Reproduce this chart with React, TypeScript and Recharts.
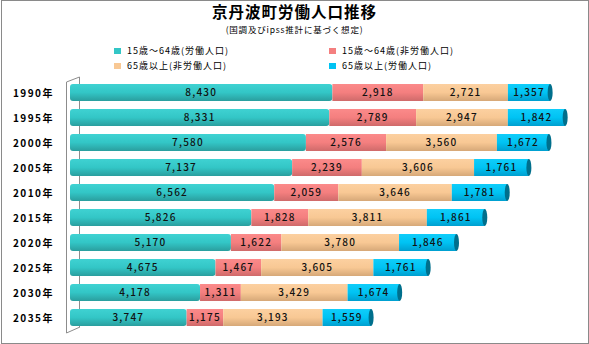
import React from "react";
import { BarChart, Bar, XAxis, YAxis, LabelList } from "recharts";

const years = ["1990年", "1995年", "2000年", "2005年", "2010年", "2015年", "2020年", "2025年", "2030年", "2035年"];
const workAge = [8430, 8331, 7580, 7137, 6562, 5826, 5170, 4675, 4178, 3747];
const workAgeNon = [2918, 2789, 2576, 2239, 2059, 1828, 1622, 1467, 1311, 1175];
const elderNon = [2721, 2947, 3560, 3606, 3646, 3811, 3780, 3605, 3429, 3193];
const elderWork = [1357, 1842, 1672, 1761, 1781, 1861, 1846, 1761, 1674, 1559];

const seriesNames = ["15歳～64歳(労働人口)", "15歳～64歳(非労働人口)", "65歳以上(非労働人口)", "65歳以上(労働人口)"];

const data = years.map((y, i) => ({
  year: y,
  a: workAge[i],
  b: workAgeNon[i],
  c: elderNon[i],
  d: elderWork[i],
}));

const FONT = '"Noto Sans CJK JP", "Noto Sans", sans-serif';

const colors = {
  a: ["#3fd2d2", "#33c6c6", "#2a9e9e"],
  b: ["#fb8a8a", "#f47f7f", "#cf6a6a"],
  c: ["#fcd0a0", "#f8c894", "#d6a878"],
  d: ["#10cdfa", "#00c3f3", "#009fcf"],
};
const legendColors = ["#33c6c6", "#f47f7f", "#f8c894", "#00c3f3"];

function makeShape(key: string, last: boolean, first: boolean) {
  return (props: any) => {
    const { x, y, width, height } = props;
    if (!width) return null;
    return (
      <g>
        <rect x={x} y={y} width={width} height={height} fill={`url(#grad-${key})`} rx={first ? 3 : 0} />
        {last && (
          <ellipse cx={x + width} cy={y + height / 2} rx={2.5} ry={height / 2} fill="#006f8c" />
        )}
      </g>
    );
  };
}

const fmt = (v: any) => Number(v).toLocaleString("en-US");

function YearTick({ x, y, payload }: any) {
  return (
    <text x={x - 8} y={y} dy={4} textAnchor="end" fontSize={10} fontWeight={600}
      letterSpacing={1.5} fill="#000" fontFamily={FONT}>
      {payload.value}
    </text>
  );
}

const labelStyle = { fontSize: 10, fontFamily: FONT, letterSpacing: 1.2, fill: "#111", fontWeight: 500 };

function LegendItem({ color, text, left, top }: { color: string; text: string; left: number; top: number }) {
  return (
    <div style={{ position: "absolute", left, top, display: "flex", alignItems: "center", fontSize: 9, lineHeight: "11px", fontFamily: FONT, letterSpacing: 1, whiteSpace: "nowrap" }}>
      <span style={{ width: 7, height: 6, background: color, marginRight: 6, display: "inline-block" }} />
      {text}
    </div>
  );
}

export default function App() {
  return (
    <div style={{ position: "absolute", left: 0, top: 0, width: 589, height: 344, background: "#fff", overflow: "hidden" }}>
      <div style={{ position: "absolute", left: 1, top: 0, width: 586, height: 342, border: "1px solid #8a8a8a" }} />
      <svg width={589} height={344} style={{ position: "absolute", left: 0, top: 0 }}>
        <g stroke="#8c8c8c" strokeWidth={1} fill="none">
          <polyline points="66.5,333 66.5,82 79.5,77 79.5,327" />
          <line x1={66.5} y1={333} x2={80} y2={327} />
        </g>
      </svg>
      <div style={{ position: "absolute", left: 0, top: 2, width: 589, textAlign: "center", fontFamily: FONT, fontWeight: 700, fontSize: 15.5, lineHeight: "18px", letterSpacing: 1 }}>
        京丹波町労働人口推移
      </div>
      <div style={{ position: "absolute", left: 0, top: 24, width: 589, textAlign: "center", fontFamily: FONT, fontSize: 8.5, lineHeight: "10px", letterSpacing: 0.8 }}>
        (国調及びipss推計に基づく想定)
      </div>
      <LegendItem color={legendColors[0]} text={seriesNames[0]} left={114} top={45} />
      <LegendItem color={legendColors[1]} text={seriesNames[1]} left={329} top={45} />
      <LegendItem color={legendColors[2]} text={seriesNames[2]} left={114} top={60} />
      <LegendItem color={legendColors[3]} text={seriesNames[3]} left={329} top={60} />
      <div style={{ position: "absolute", left: 0, top: 0 }}>
        <BarChart width={589} height={344} data={data} layout="vertical"
          margin={{ top: 80, right: 21, bottom: 14, left: 0 }} barSize={17}>
          <defs>
            {Object.entries(colors).map(([k, c]) => (
              <linearGradient key={k} id={`grad-${k}`} x1="0" y1="0" x2="0" y2="1">
                <stop offset="0%" stopColor={c[0]} />
                <stop offset="50%" stopColor={c[1]} />
                <stop offset="100%" stopColor={c[2]} />
              </linearGradient>
            ))}
          </defs>
          <XAxis type="number" domain={[0, 16000]} hide />
          <YAxis type="category" dataKey="year" width={70} interval={0} axisLine={false} tickLine={false} tick={<YearTick />} />
          <Bar dataKey="a" stackId="s" isAnimationActive={false} shape={makeShape("a", false, true)}>
            <LabelList dataKey="a" position="center" formatter={fmt} style={labelStyle} />
          </Bar>
          <Bar dataKey="b" stackId="s" isAnimationActive={false} shape={makeShape("b", false, false)}>
            <LabelList dataKey="b" position="center" formatter={fmt} style={labelStyle} />
          </Bar>
          <Bar dataKey="c" stackId="s" isAnimationActive={false} shape={makeShape("c", false, false)}>
            <LabelList dataKey="c" position="center" formatter={fmt} style={labelStyle} />
          </Bar>
          <Bar dataKey="d" stackId="s" isAnimationActive={false} shape={makeShape("d", true, false)}>
            <LabelList dataKey="d" position="center" formatter={fmt} style={labelStyle} />
          </Bar>
        </BarChart>
      </div>
    </div>
  );
}
